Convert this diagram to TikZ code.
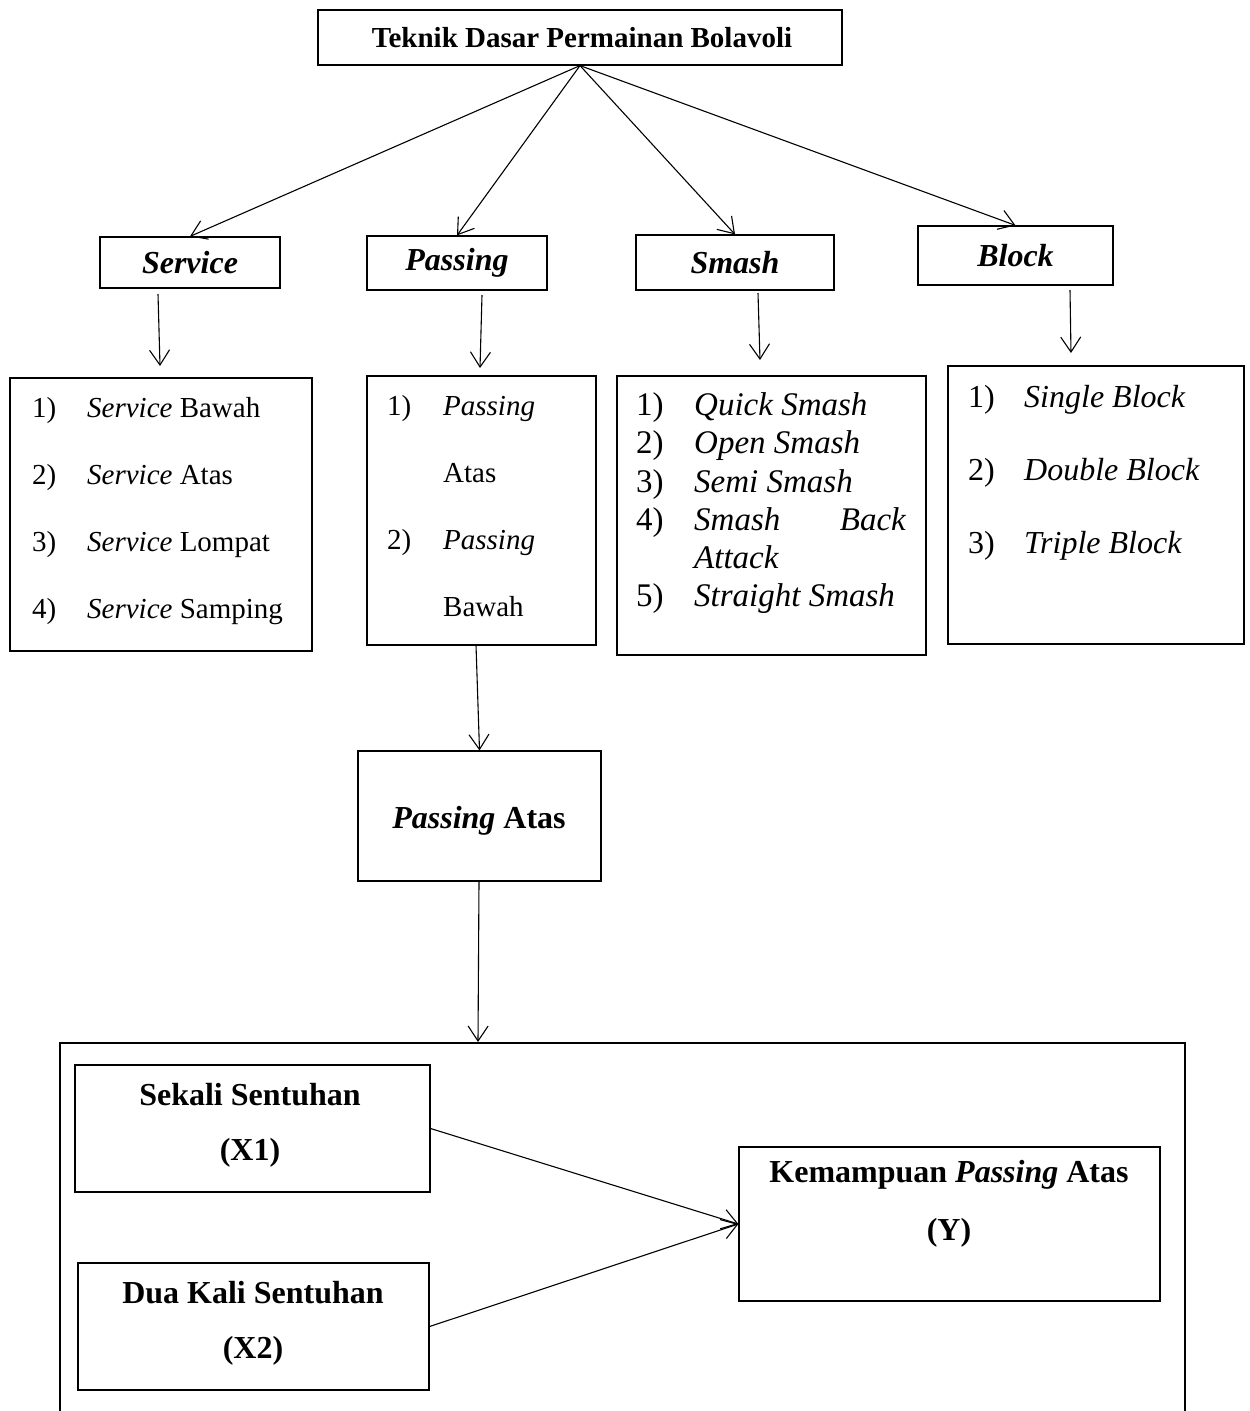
\documentclass[tikz,border=0pt]{standalone}
\usepackage{fontspec}
\setmainfont{Liberation Serif}
\usetikzlibrary{arrows.meta}
\tikzset{
  box/.style={draw, line width=1.2pt, inner sep=0pt},
  arr/.style={line width=1.1pt, -{Straight Barb[length=15pt,width=20pt,line width=1.1pt]}},
  txt/.style={inner sep=0pt, anchor=base west},
  ctxt/.style={inner sep=0pt, anchor=base},
}
\newcommand{\fsA}{\fontsize{29}{34}\selectfont}
\newcommand{\fsB}{\fontsize{32}{38}\selectfont}
\newcommand{\fsC}{\fontsize{33}{38}\selectfont}
\begin{document}
\begin{tikzpicture}[x=1pt,y=-1pt]
\useasboundingbox (0,0) rectangle (1250,1411);
% top level
\node[box, minimum width=524, minimum height=55] (title) at (580,37.5) {};
\node[ctxt] (titlet) at (582,47) {\fsA\bfseries Teknik Dasar Permainan Bolavoli};
% headers
\node[box, minimum width=180, minimum height=51] (service) at (190,262.5) {\fsB\bfseries\itshape Service};
\node[box, minimum width=180, minimum height=54] (passing) at (457,263) {\fsB\bfseries\itshape Passing};
\node[box, minimum width=198, minimum height=55] (smash) at (735,262.5) {\fsB\bfseries\itshape Smash};
\node[box, minimum width=195, minimum height=59] (block) at (1015.5,255.5) {\fsB\bfseries\itshape Block};
\foreach \n in {service,passing,smash,block} \draw[arr] (title.south) -- (\n.north);
% list boxes
\node[box, minimum width=302, minimum height=273] (slist) at (161,514.5) {};
\node[box, minimum width=229, minimum height=269] (plist) at (481.5,510.5) {};
\node[box, minimum width=309, minimum height=279] (smlist) at (771.5,515.5) {};
\node[box, minimum width=296, minimum height=278] (blist) at (1096,505) {};
% short arrows
\coordinate (sa1) at (158,294); \coordinate (sa2) at (160,366);
\coordinate (pa1) at (482,295); \coordinate (pa2) at (480,368);
\coordinate (ma1) at (758,293); \coordinate (ma2) at (760,360);
\coordinate (ba1) at (1070,290); \coordinate (ba2) at (1071,353);
\draw[arr] (sa1) -- (sa2);
\draw[arr] (pa1) -- (pa2);
\draw[arr] (ma1) -- (ma2);
\draw[arr] (ba1) -- (ba2);
% service list
\begin{scope}[every node/.style={txt}]
\fsA
\node (s1n) at (32,417) {1)}; \node (s1t) at (87,417) {\textit{Service} Bawah};
\node (s2n) at (32,484) {2)}; \node (s2t) at (87,484) {\textit{Service} Atas};
\node (s3n) at (32,551) {3)}; \node (s3t) at (87,551) {\textit{Service} Lompat};
\node (s4n) at (32,618) {4)}; \node (s4t) at (87,618) {\textit{Service} Samping};
% passing list
\node (p1n) at (387,415) {1)}; \node (p1t) at (443,415) {\textit{Passing}};
\node (p1u) at (443,482) {Atas};
\node (p2n) at (387,549) {2)}; \node (p2t) at (443,549) {\textit{Passing}};
\node (p2u) at (443,616) {Bawah};
\end{scope}
% smash list
\begin{scope}[every node/.style={txt}]
\node (m1n) at (636,415) {\fsC 1)}; \node (m1t) at (694,415) {\fsC\itshape Quick Smash};
\node (m2n) at (636,453) {\fsC 2)}; \node (m2t) at (694,453) {\fsC\itshape Open Smash};
\node (m3n) at (636,492) {\fsC 3)}; \node (m3t) at (694,492) {\fsC\itshape Semi Smash};
\node (m4n) at (636,530) {\fsC 4)}; \node (m4t) at (694,530) {\fsC\itshape Smash};
\node[anchor=base east] (m4u) at (906,530) {\fsC\itshape Back};
\node (m4v) at (694,568) {\fsC\itshape Attack};
\node (m5n) at (636,606) {\fsC 5)}; \node (m5t) at (694,606) {\fsC\itshape Straight Smash};
% block list
\node (b1n) at (968,407) {\fsB 1)}; \node (b1t) at (1024,407) {\fsB\itshape Single Block};
\node (b2n) at (968,480) {\fsB 2)}; \node (b2t) at (1024,480) {\fsB\itshape Double Block};
\node (b3n) at (968,553) {\fsB 3)}; \node (b3t) at (1024,553) {\fsB\itshape Triple Block};
\end{scope}
% passing atas
\node[box, minimum width=243, minimum height=130] (pa) at (479.5,816) {};
\node[ctxt] (pat) at (479,828) {\fsB\bfseries\textit{Passing} Atas};
\coordinate (pl1) at (476,645);
\draw[arr] (pl1) -- (pa.north);
\coordinate (pb1) at (479,881); \coordinate (pb2) at (478,1042);
\draw[arr] (pb1) -- (pb2);
% big box (bottom edge off page)
\draw[line width=1.2pt] (60,1413) -- (60,1043) -- (1185,1043) -- (1185,1413);
\node[box, minimum width=355, minimum height=127] (sekali) at (252.5,1128.5) {};
\node[ctxt] (sekt) at (250,1105) {\fsB\bfseries Sekali Sentuhan};
\node[ctxt] (sekx) at (250,1160) {\fsB\bfseries (X1)};
\node[box, minimum width=351, minimum height=127] (dua) at (253.5,1326.5) {};
\node[ctxt] (duat) at (253,1303) {\fsB\bfseries Dua Kali Sentuhan};
\node[ctxt] (duax) at (253,1358) {\fsB\bfseries (X2)};
\node[box, minimum width=421, minimum height=154] (kem) at (949.5,1224) {};
\node[ctxt] (kemt) at (949,1182) {\fsB\bfseries Kemampuan \textit{Passing} Atas};
\node[ctxt] (kemy) at (949,1240) {\fsB\bfseries (Y)};
\draw[arr] (sekali.east) -- (kem.west);
\draw[arr] (dua.east) -- (kem.west);
\end{tikzpicture}
\end{document}
